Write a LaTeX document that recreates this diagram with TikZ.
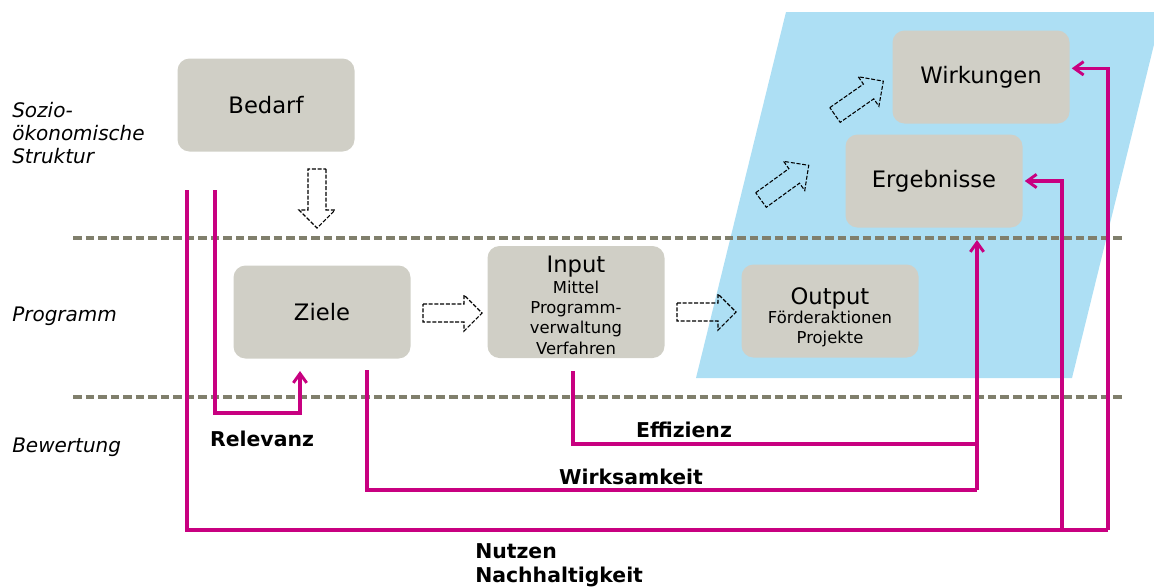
\documentclass[tikz,border=0pt]{standalone}
\usepackage{fontspec}
\setmainfont{DejaVu Sans}
\usepackage{tikz}
\usetikzlibrary{arrows.meta}

\definecolor{boxgray}{HTML}{D0CFC6}
\definecolor{areablue}{HTML}{ADDFF4}
\definecolor{evalred}{HTML}{C80080}
\definecolor{sepgray}{HTML}{807F6C}

\newcommand{\boxtitle}{\fontsize{17}{20}\selectfont}
\newcommand{\subtext}{\fontsize{12.3}{15.3}\selectfont}

\tikzset{
	box/.style={fill=boxgray, rounded corners=9pt, minimum width=132.75pt, minimum height=69.75pt, inner sep=0pt, align=center, font=\boxtitle},
	hollow/.style={black, line width=0.8pt, dash pattern=on 3pt off 1.3pt},
	link/.style={evalred, line width=2.4pt},
	linkarrow/.style={link, -{Straight Barb[length=7pt, width=10pt, line width=2.2pt]}},
	seprule/.style={sepgray, line width=3pt, dash pattern=on 6.4pt off 3pt},
	rowlabel/.style={anchor=west, align=left, inner sep=0pt, font=\fontsize{15}{17.5}\selectfont\itshape},
	verdict/.style={inner sep=0pt, font=\fontsize{15.3}{18}\selectfont\bfseries}
}

% dashed hollow block arrow: tail centre (x,y), direction in degrees
\def\hollowarrow(#1,#2)(#3){\draw[hollow, shift={(#1,#2)}, rotate=#3] (0,-9) -- (41,-9) -- (41,-18) -- (59,0) -- (41,18) -- (41,9) -- (0,9) -- cycle;}

\begin{document}
\begin{tikzpicture}[x=0.75pt, y=-0.75pt]
		%%%%% START %%%%%
		\useasboundingbox (0,0) rectangle (1154,586);
		
		% area of results and impacts
		\begin{scope}
			\clip (0,0) rectangle (1154,586);
			\fill[areablue] (786,12) -- (1162,12) -- (1072,378) -- (696,378) -- cycle;
		\end{scope}
		
		% separators between the levels
		\draw[seprule] (73,238) -- (1122,238);
		\draw[seprule] (73,397) -- (1122,397);
		
		\node[rowlabel] (lsozio) at (12,133) {Sozio-\\ökonomische\\Struktur};
		\node[rowlabel] (lprog) at (12,316) {Programm};
		\node[rowlabel] (lbew) at (12,447) {Bewertung};
		
		\node[box] (bedarf) at (266,105) {Bedarf};
		\node[box] (ziele) at (322,312) {Ziele};
		\node[box, minimum height=84pt, font=\subtext] (input) at (576,302) {{\boxtitle\rule{0pt}{17.5pt}Input}\\[0pt]Mittel\\Programm-\\verwaltung\\Verfahren};
		\node[box, font=\subtext] (output) at (830,311) {{\boxtitle\rule{0pt}{22pt}Output}\\[-1pt]Förderaktionen\\Projekte};
		\node[box] (ergeb) at (934,181) {Ergebnisse};
		\node[box] (wirk) at (981,77) {Wirkungen};
		
		\hollowarrow(317,169)(-90);
		\hollowarrow(423,313)(0);
		\hollowarrow(677,312)(0);
		\hollowarrow(761,200)(36);
		\hollowarrow(835,115)(35);
		
		% ends of the evaluation lines
		\coordinate (relS) at (215,190);
		\coordinate (relB) at (215,413);
		\coordinate (relT) at (300,371);
		\coordinate (nutS) at (187,190);
		\coordinate (nutR) at (1108,530);
		\coordinate (nutB) at (1062,530);
		\coordinate (wksS) at (367,370);
		\coordinate (wksR) at (977,490);
		\coordinate (wksT) at (977,240);
		\coordinate (effS) at (573,371);
		\coordinate (effR) at (977,444);
		
		\draw[linkarrow] (relS) -- (relB) -| (relT);
		\draw[link] (nutS) |- (nutR);
		\draw[linkarrow] (nutR) |- ([xshift=1.5pt, yshift=6.5pt]wirk.east);
		\draw[linkarrow] (nutB) |- ([xshift=1.5pt]ergeb.east);
		\draw[link] (wksS) |- (wksR);
		\draw[linkarrow] (wksR) -- (wksT);
		\draw[link] (effS) |- (effR);
		
		\node[verdict] (relevanz) at (262,439) {Relevanz};
		\node[verdict] (effizienz) at (684,430) {Effizienz};
		\node[verdict] (wirksam) at (631,477) {Wirksamkeit};
		\node[verdict, anchor=west, align=left] (nutzen) at (475,565) {Nutzen\\Nachhaltigkeit};
		
		%%%%% END %%%%%
\end{tikzpicture}
\end{document}
